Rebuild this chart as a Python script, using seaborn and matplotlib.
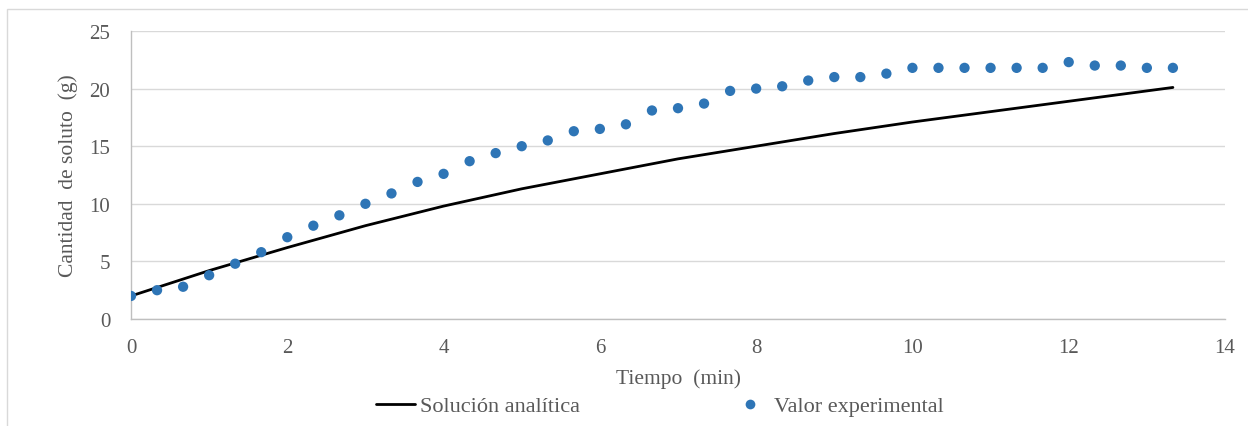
import numpy as np
import pandas as pd
import matplotlib
matplotlib.use("Agg")
import matplotlib.pyplot as plt
from matplotlib.patches import Rectangle
from matplotlib.lines import Line2D
import seaborn as sns

# experimental points (every 20 s)
t_exp = [0, 1/3, 2/3, 1, 4/3, 5/3, 2, 7/3, 8/3, 3, 10/3, 11/3, 4, 13/3, 14/3, 5,
         16/3, 17/3, 6, 19/3, 20/3, 7, 22/3, 23/3, 8, 25/3, 26/3, 9, 28/3, 29/3,
         10, 31/3, 32/3, 11, 34/3, 35/3, 12, 37/3, 38/3, 13, 40/3]
m_exp = [2.0, 2.5, 2.8, 3.8, 4.8, 5.8, 7.1, 8.1, 9.0, 10.0, 10.9, 11.9, 12.6, 13.7,
         14.4, 15.0, 15.5, 16.3, 16.5, 16.9, 18.1, 18.3, 18.7, 19.8, 20.0, 20.2,
         20.7, 21.0, 21.0, 21.3, 21.8, 21.8, 21.8, 21.8, 21.8, 21.8, 22.3, 22.0,
         22.0, 21.8, 21.8]

# analytic solution
t_an = [0, 1, 2, 3, 4, 5, 6, 7, 8, 9, 10, 11, 12, 13, 40/3]
m_an = [2.0, 4.2, 6.2, 8.1, 9.8, 11.3, 12.6, 13.9, 15.0, 16.1, 17.1, 18.0, 18.9, 19.8, 20.1]

x_ticks = [0, 2, 4, 6, 8, 10, 12, 14]
y_ticks = [0, 5, 10, 15, 20, 25]

GRAY = "#595959"
BLUE = "#2E75B6"


def main():
    sns.set_theme(style="white")
    plt.rcParams["font.family"] = ["Liberation Serif", "DejaVu Serif"]

    fig = plt.figure(figsize=(12.48, 4.27), dpi=100)
    ax = fig.add_axes([131 / 1248, 1 - 320 / 427, (1225 - 131) / 1248, (320 - 32) / 427])

    df_an = pd.DataFrame({"t": t_an, "m": m_an})
    df_exp = pd.DataFrame({"t": t_exp, "m": m_exp})

    sns.lineplot(data=df_an, x="t", y="m", ax=ax, color="black", linewidth=2, zorder=3)
    sns.scatterplot(data=df_exp, x="t", y="m", ax=ax, color=BLUE, s=55,
                    edgecolor="none", zorder=4)

    ax.set_xlim(0, 14)
    ax.set_ylim(0, 25)
    ax.set_xticks(x_ticks)
    ax.set_yticks(y_ticks)
    ax.grid(axis="y", color="#d9d9d9", linewidth=1)
    ax.grid(axis="x", visible=False)
    for s in ["top", "right"]:
        ax.spines[s].set_visible(False)
    for s in ["left", "bottom"]:
        ax.spines[s].set_color("#bfbfbf")
        ax.spines[s].set_linewidth(1)
    ax.tick_params(axis="both", length=0, labelsize=15, labelcolor=GRAY)
    ax.tick_params(axis="x", pad=14)
    ax.tick_params(axis="y", pad=15)

    ax.set_xlabel("Tiempo  (min)", fontsize=15.5, color=GRAY, labelpad=8)
    ax.set_ylabel("Cantidad  de soluto  (g)", fontsize=15.5, color=GRAY, labelpad=8)

    handles = [
        Line2D([], [], color="black", linewidth=2),
        Line2D([], [], color=BLUE, marker="o", linestyle="none", markersize=7,
               markeredgewidth=0),
    ]
    fig.legend(handles, ["Solución analítica", "Valor experimental"],
               loc="center", bbox_to_anchor=(660 / 1248, 1 - 407 / 427), ncol=2,
               frameon=False, fontsize=16, columnspacing=6.8, handlelength=1.75,
               handletextpad=0.2, labelcolor=GRAY)

    fig.add_artist(Rectangle((7 / 1248, -0.1), 1.2, 1 - 10 / 427 + 0.1,
                             transform=fig.transFigure, fill=False,
                             edgecolor="#d9d9d9", linewidth=1))

    fig.savefig("out.png", dpi=100)


if __name__ == "__main__":
    main()
